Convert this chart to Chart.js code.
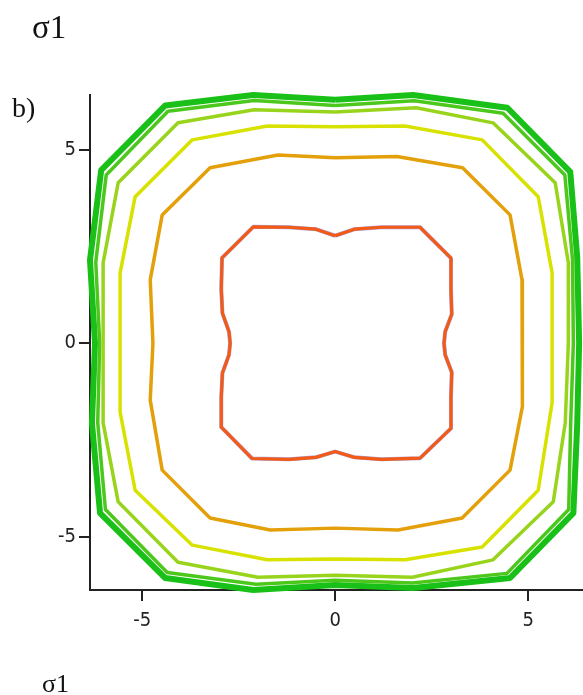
<!DOCTYPE html>
<html>
<head>
<meta charset="utf-8">
<script src="https://cdn.jsdelivr.net/npm/chart.js@4/dist/chart.umd.min.js"></script>
<style>
  body { margin: 0; background: #fff; }
  #wrap { position: relative; width: 583px; height: 695px; overflow: hidden; }
  #c { position: absolute; left: 0; top: 0; }
  .lbl { position: absolute; font-family: "Liberation Serif", "Times New Roman", serif; color: #111; line-height: 1; }
</style>
</head>
<body>
<div id="wrap">
  <canvas id="c" width="583" height="695"></canvas>
  <div class="lbl" style="left:32px; top:11px; font-size:33px;">σ1</div>
  <div class="lbl" style="left:12px; top:94px; font-size:28px;">b)</div>
  <div class="lbl" style="left:42px; top:671px; font-size:26px;">σ1</div>
</div>
<script>
// contour lines (closed loops, x / y pairs)
const innerX = [0, 0.5, 1.2, 2.2, 3.0, 3.0, 3.02, 2.85, 2.82, 2.85, 3.02, 3.0, 3.0, 2.2, 1.2, 0.5, 0, -0.5, -1.2, -2.15, -2.95, -2.95, -2.92, -2.75, -2.72, -2.75, -2.92, -2.95, -2.93, -2.12, -1.2, -0.5, 0];
const innerY = [2.78, 2.95, 3.0, 3.0, 2.2, 1.4, 0.75, 0.3, 0, -0.3, -0.75, -1.4, -2.2, -2.97, -3.0, -2.95, -2.8, -2.95, -3.0, -2.98, -2.17, -1.4, -0.77, -0.3, 0, 0.3, 0.78, 1.4, 2.21, 3.01, 3.0, 2.95, 2.78];

const orangeX = [0, 1.6, 3.3, 4.53, 4.84, 4.86, 4.84, 4.53, 3.29, 1.63, 0, -1.68, -3.24, -4.48, -4.79, -4.72, -4.79, -4.48, -3.24, -1.48, 0];
const orangeY = [4.8, 4.83, 4.54, 3.32, 1.64, 0, -1.64, -3.28, -4.52, -4.83, -4.78, -4.83, -4.52, -3.28, -1.47, 0, 1.64, 3.32, 4.54, 4.87, 4.8];

const yellowX = [0, 1.81, 3.81, 5.26, 5.62, 5.62, 5.62, 5.26, 3.81, 1.81, 0, -1.76, -3.7, -5.18, -5.57, -5.57, -5.57, -5.18, -3.7, -1.76, 0];
const yellowY = [5.6, 5.62, 5.26, 3.79, 1.82, 0, -1.54, -3.8, -5.27, -5.6, -5.58, -5.6, -5.22, -3.8, -1.78, 0, 1.82, 3.79, 5.26, 5.62, 5.6];

const limeX = [0, 2.1, 4.09, 5.7, 6.04, 6.04, 5.96, 5.65, 4.09, 2.0, 0, -2.0, -4.07, -5.62, -6.01, -6.01, -6.01, -5.62, -4.07, -2.1, 0];
const limeY = [5.98, 6.09, 5.7, 4.15, 2.08, 0, -2.06, -4.1, -5.6, -6.05, -6.0, -6.05, -5.66, -4.1, -2.06, 0, 2.08, 4.15, 5.7, 6.04, 5.98];

const greenX = [0, 2.05, 4.35, 5.95, 6.15, 6.17, 6.1, 6.05, 4.45, 2.0, 0, -2.05, -4.35, -5.95, -6.15, -6.1, -6.2, -5.93, -4.33, -2.1, 0];
const greenY = [6.15, 6.27, 5.95, 4.35, 2.15, 0, -2.1, -4.3, -5.95, -6.2, -6.13, -6.23, -5.93, -4.3, -2.05, 0, 2.1, 4.35, 6.0, 6.28, 6.15];

const outerX = [0, 2.02, 4.46, 6.09, 6.27, 6.32, 6.27, 6.17, 4.53, 2.02, 0, -2.12, -4.4, -6.09, -6.3, -6.22, -6.35, -6.06, -4.4, -2.12, 0];
const outerY = [6.3, 6.42, 6.09, 4.43, 2.23, 0, -2.1, -4.39, -6.07, -6.33, -6.25, -6.38, -6.07, -4.39, -2.06, 0, 2.15, 4.48, 6.15, 6.42, 6.3];

const tickValues = [-5, 0, 5];

const pts = (xs, ys) => xs.map((x, i) => ({ x: x, y: ys[i] }));

const line = (data, color, width, order) => ({
    data: data,
    showLine: true,
    borderColor: color,
    borderWidth: width,
    borderJoinStyle: 'round',
    pointRadius: 0,
    tension: 0,
    fill: false,
    clip: false,
    order: order
});

const axisOpts = (min, max, pad) => ({
    type: 'linear',
    min: min,
    max: max,
    afterBuildTicks: (s) => { s.ticks = tickValues.map(v => ({ value: v })); },
    grid: { drawOnChartArea: false, drawTicks: true, tickLength: 11, color: '#222', lineWidth: 2 },
    border: { display: true, color: '#222', width: 2 },
    ticks: {
        color: '#222',
        padding: pad,
        font: { family: '"Liberation Sans Narrow", "DejaVu Sans Condensed", sans-serif', size: 20 },
        callback: (v) => v
    }
});

new Chart(document.getElementById('c'), {
    type: 'scatter',
    data: {
        datasets: [
            line(pts(outerX, outerY), '#18c018', 6, 6),
            line(pts(greenX, greenY), '#4cc81c', 3.5, 5),
            line(pts(limeX, limeY), '#98d41c', 3.5, 4),
            line(pts(yellowX, yellowY), '#d8e200', 3.5, 3),
            line(pts(orangeX, orangeY), '#e4a00a', 3.5, 2),
            line(pts(innerX, innerY), 'rgba(70,60,190,0.45)', 4, 1.5),
            line(pts(innerX, innerY), '#f25a16', 3.2, 1)
        ]
    },
    options: {
        responsive: false,
        animation: false,
        layout: { padding: { left: 0, right: 0, top: 95, bottom: 0 } },
        plugins: { legend: { display: false }, tooltip: { enabled: false } },
        scales: {
            x: Object.assign(axisOpts(-6.35, 6.42, 8), { afterFit: (s) => { s.height = 105; } }),
            y: Object.assign(axisOpts(-6.38, 6.42, 3), { afterFit: (s) => { s.width = 90; } })
        }
    }
});
</script>
</body>
</html>
